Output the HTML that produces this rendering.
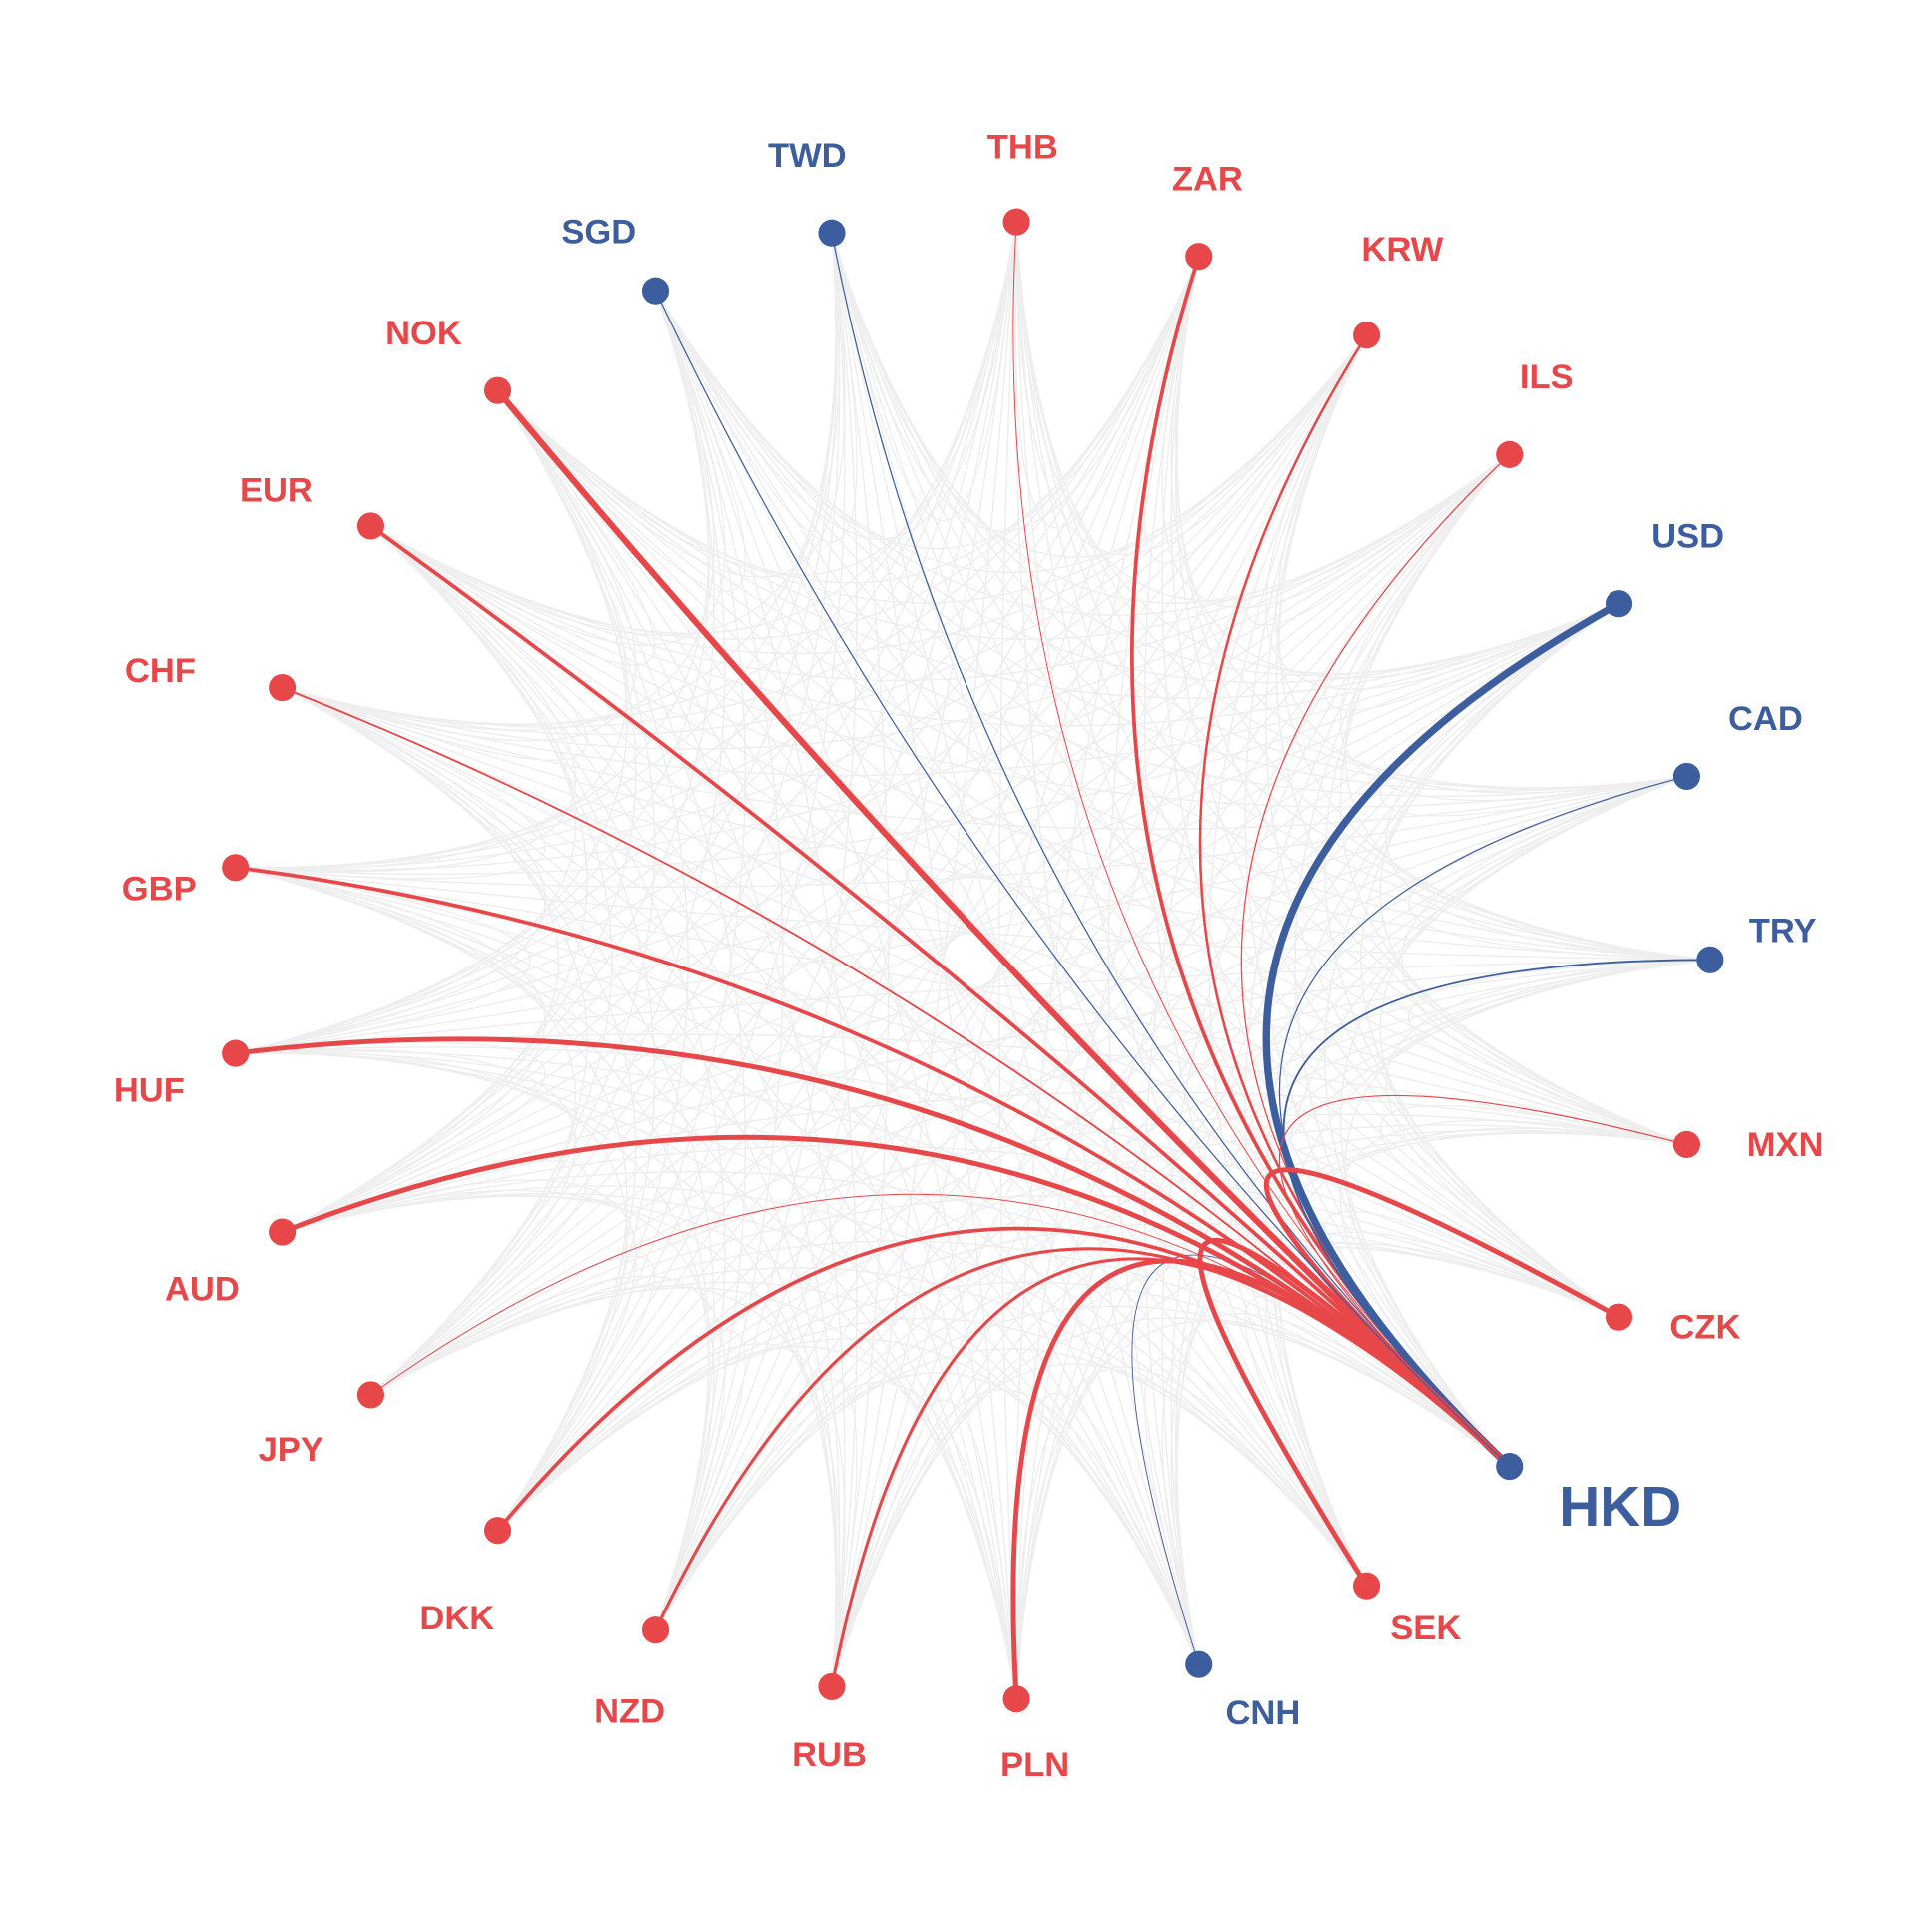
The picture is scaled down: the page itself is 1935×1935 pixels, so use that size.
<!DOCTYPE html>
<html><head><meta charset="utf-8"><style>
html,body{margin:0;padding:0;background:#fff}
svg{display:block}
text{font-family:"Liberation Sans",sans-serif;font-weight:bold;font-size:28px;text-anchor:middle;dominant-baseline:middle}
</style></head><body>
<svg id="s" width="1935" height="1935" viewBox="0 0 1568 1568" xmlns="http://www.w3.org/2000/svg">
<g id="gray" fill="none" stroke="#eeeeee" stroke-width="1.2"></g>
<g id="main" fill="none"></g>
<g id="dots"></g>
<g id="labels"></g>
</svg>
<script>
var C=[790,780];
var N=[
["TWD",675,189,"b",1,655,128],["THB",825,180,"r",0.8,830,121],["ZAR",973,208,"r",3,980,147],
["KRW",1109,272,"r",2,1138,204],["ILS",1225,369,"r",1,1255,308],["USD",1314,490,"b",6,1370,437],
["CAD",1369,630,"b",1,1433,585],["TRY",1388,779,"b",1.5,1447,757],["MXN",1369,929,"r",1,1449,931],
["CZK",1314,1069,"r",4,1384,1079],["HKD",1225,1190,"b",0,1315,1226],["SEK",1109,1287,"r",4,1157,1323],
["CNH",973,1351,"b",0.8,1025,1392],["PLN",825,1379,"r",4,840,1434],["RUB",675,1369,"r",2.5,673,1426],
["NZD",532,1323,"r",2.5,511,1391],["DKK",404,1242,"r",3,371,1315],["JPY",301,1132,"r",0.8,236,1178],
["AUD",229,1000,"r",4,164,1048],["HUF",191,855,"r",4,121,887],["GBP",191,704,"r",3,129,723],
["CHF",229,558,"r",1.5,130,546],["EUR",301,427,"r",3,224,400],["NOK",404,317,"r",5,344,272],
["SGD",532,236,"b",1,486,190]];
var NS="http://www.w3.org/2000/svg";
function el(t,a,p){var e=document.createElementNS(NS,t);for(var k in a)e.setAttribute(k,a[k]);p.appendChild(e);return e;}
var g=document.getElementById("gray"),m=document.getElementById("main"),d=document.getElementById("dots"),l=document.getElementById("labels");
for(var i=0;i<N.length;i++)for(var j=i+1;j<N.length;j++){
 var a=N[i],b=N[j];
 var cx=C[0]*0.8+(a[1]+b[1])/2*0.2, cy=C[1]*0.8+(a[2]+b[2])/2*0.2;
 el("path",{d:"M"+a[1]+","+a[2]+" Q"+cx+","+cy+" "+b[1]+","+b[2]},g);
}
var H=N[10];
N.forEach(function(n){
 if(n[0]=="HKD")return;
 var col=n[3]=="r"?"#e8474a":"#3d5e9e";
 el("path",{d:"M"+H[1]+","+H[2]+" Q"+C[0]+","+C[1]+" "+n[1]+","+n[2],stroke:col,"stroke-width":n[4]},m);
});
N.forEach(function(n){
 var col=n[3]=="r"?"#e8474a":"#3d5e9e";
 el("circle",{cx:n[1],cy:n[2],r:11,fill:col},d);
 var t=el("text",{x:n[5],y:n[6],fill:col},l);
 if(n[0]=="HKD")t.setAttribute("style","font-size:46px");
 t.textContent=n[0];
});
</script>
</body></html>
